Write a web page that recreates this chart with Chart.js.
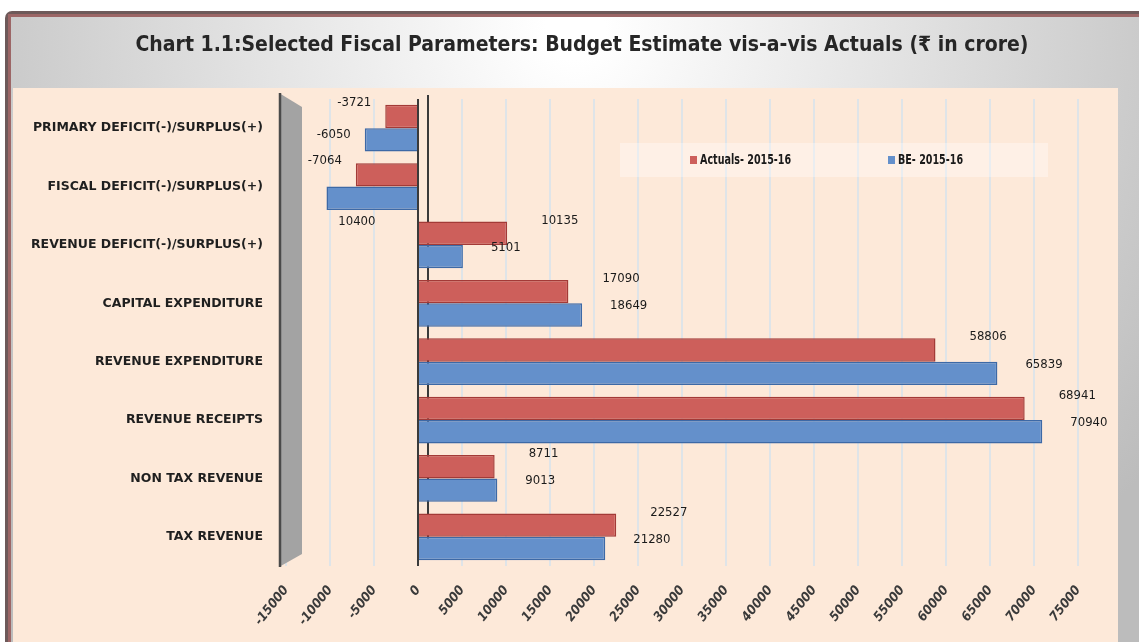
<!DOCTYPE html>
<html>
<head>
<meta charset="utf-8">
<script src="https://cdn.jsdelivr.net/npm/chart.js@4.4.0/dist/chart.umd.min.js"></script>
<style>
  html, body { margin: 0; padding: 0; background: #fff; }
  #wrap { position: relative; width: 1139px; height: 642px; }
</style>
</head>
<body>
<div id="wrap"><canvas id="grafico" width="1139" height="642"></canvas></div>
<script>
// datos (crore)
const categorias = [
  'PRIMARY DEFICIT(-)/SURPLUS(+)',
  'FISCAL DEFICIT(-)/SURPLUS(+)',
  'REVENUE DEFICIT(-)/SURPLUS(+)',
  'CAPITAL EXPENDITURE',
  'REVENUE EXPENDITURE',
  'REVENUE RECEIPTS',
  'NON TAX REVENUE',
  'TAX REVENUE'
];
const actuales = [-3721, -7064, 10135, 17090, 58806, 68941, 8711, 22527];
const presupuesto = [-6050, -10400, 5101, 18649, 65839, 70940, 9013, 21280];
const etiquetasActuales = ['-3721', '-7064', '10135', '17090', '58806', '68941', '8711', '22527'];
const etiquetasPresupuesto = ['-6050', '10400', '5101', '18649', '65839', '70940', '9013', '21280'];
const ejeMin = -15000;
const ejeMax = 75000;
const ejePaso = 5000;

const titulo = 'Chart 1.1:Selected Fiscal Parameters: Budget Estimate vis-a-vis Actuals (\u20B9 in crore)';
const fuente = "'DejaVu Sans Condensed', 'Liberation Sans', sans-serif";
const fuenteAncha = "'DejaVu Sans', 'Liberation Sans', sans-serif";

// fondo, marco y titulo
const fondoPlugin = {
  id: 'fondo',
  beforeDraw(chart) {
    const ctx = chart.ctx;
    const w = chart.width, h = chart.height;
    ctx.save();
    ctx.fillStyle = '#ffffff';
    ctx.fillRect(0, 0, w, h);
    ctx.fillStyle = '#6e5a5a';
    ctx.beginPath();
    ctx.roundRect(5, 11, w - 5, h - 11, [7, 0, 0, 0]);
    ctx.fill();
    ctx.fillStyle = '#9c6666';
    ctx.fillRect(8, 14, w - 8, h - 14);
    const g = ctx.createRadialGradient(575, 30, 30, 575, 30, 720);
    g.addColorStop(0, '#ffffff');
    g.addColorStop(1, '#bcbcbc');
    ctx.fillStyle = g;
    ctx.fillRect(11, 17, w - 11, h - 17);
    ctx.fillStyle = '#fde9d9';
    ctx.fillRect(13, 88, 1105, h - 88);

    ctx.fillStyle = '#262626';
    ctx.font = `bold 21px ${fuente}`;
    ctx.textAlign = 'center';
    ctx.textBaseline = 'middle';
    ctx.fillText(titulo, 582, 46);
    ctx.restore();
  },
  beforeDatasetsDraw(chart) {
    // pared gris 3D y linea cero trasera
    const ctx = chart.ctx;
    const a = chart.chartArea;
    const x0 = chart.scales.x.getPixelForValue(0);
    ctx.save();
    ctx.fillStyle = '#a3a3a3';
    ctx.beginPath();
    ctx.moveTo(a.left - 7, a.top - 6);
    ctx.lineTo(a.left + 16, a.top + 8);
    ctx.lineTo(a.left + 16, a.bottom - 12);
    ctx.lineTo(a.left - 7, a.bottom + 1);
    ctx.closePath();
    ctx.fill();
    ctx.strokeStyle = '#4a4a4a';
    ctx.lineWidth = 2.5;
    ctx.beginPath();
    ctx.moveTo(a.left - 6, a.top - 6);
    ctx.lineTo(a.left - 6, a.bottom + 1);
    ctx.stroke();
    ctx.strokeStyle = '#3a3a3a';
    ctx.lineWidth = 2;
    ctx.beginPath();
    ctx.moveTo(x0 + 10, a.top - 4);
    ctx.lineTo(x0 + 10, a.bottom - 12);
    ctx.stroke();
    ctx.restore();
  }
};

// etiquetas de valores
const etiquetasPlugin = {
  id: 'etiquetas',
  afterDatasetsDraw(chart) {
    const ctx = chart.ctx;
    ctx.save();
    ctx.font = `13px ${fuente}`;
    ctx.fillStyle = '#1a1a1a';
    ctx.textBaseline = 'middle';
    chart.data.datasets.forEach((ds, i) => {
      const meta = chart.getDatasetMeta(i);
      const textos = i === 0 ? etiquetasActuales : etiquetasPresupuesto;
      meta.data.forEach((bar, j) => {
        const v = ds.data[j];
        if (v >= 0) {
          ctx.textAlign = 'left';
          ctx.fillText(textos[j], bar.x + (i === 0 ? 34 : 28), bar.y - (i === 0 ? 13 : 9));
        } else if (i === 1 && v < -8000) {
          // etiqueta larga queda debajo de la barra
          ctx.textAlign = 'right';
          ctx.fillText(textos[j], bar.x + 49, bar.y + 23);
        } else {
          ctx.textAlign = 'right';
          ctx.fillText(textos[j], bar.x - 14, bar.y - (i === 0 ? 14 : 5));
        }
      });
    });
    ctx.restore();
  }
};

// leyenda dentro del area
const leyendaPlugin = {
  id: 'leyenda',
  afterDraw(chart) {
    const ctx = chart.ctx;
    ctx.save();
    ctx.fillStyle = 'rgba(255,255,255,0.35)';
    ctx.fillRect(620, 143, 428, 34);
    ctx.font = `bold 14px ${fuente}`;
    ctx.textBaseline = 'middle';
    ctx.textAlign = 'left';
    const posiciones = [690, 888];
    chart.data.datasets.forEach((ds, i) => {
      const x = posiciones[i];
      ctx.fillStyle = ds.backgroundColor;
      ctx.fillRect(x, 156, 7, 8);
      ctx.fillStyle = '#1a1a1a';
      ctx.save();
      ctx.translate(x + 10, 160);
      ctx.scale(0.76, 1);
      ctx.fillText(ds.label, 0, 0);
      ctx.restore();
    });
    ctx.restore();
  }
};

const ctx = document.getElementById('grafico').getContext('2d');
new Chart(ctx, {
  type: 'bar',
  data: {
    labels: categorias,
    datasets: [
      {
        label: 'Actuals- 2015-16',
        data: actuales,
        backgroundColor: '#cd5f5b',
        borderColor: '#a33a37',
        borderWidth: 1.5
      },
      {
        label: 'BE- 2015-16',
        data: presupuesto,
        backgroundColor: '#6490cb',
        borderColor: '#3d69a6',
        borderWidth: 1.5
      }
    ]
  },
  options: {
    indexAxis: 'y',
    responsive: false,
    animation: false,
    devicePixelRatio: 1,
    categoryPercentage: 0.8,
    barPercentage: 1,
    layout: { padding: { left: 0, right: 61, top: 99, bottom: 0 } },
    plugins: {
      legend: { display: false },
      title: { display: false },
      tooltip: { enabled: false }
    },
    scales: {
      x: {
        min: ejeMin,
        max: ejeMax,
        ticks: {
          stepSize: ejePaso,
          minRotation: 52,
          maxRotation: 52,
          padding: 17,
          color: '#3a3a3a',
          font: { family: fuente, size: 13, style: 'italic', weight: 'bold' },
          callback: v => String(v)
        },
        grid: {
          drawTicks: false,
          lineWidth: 2,
          color: ctx => ctx.tick && ctx.tick.value === 0 ? '#3a3a3a' : '#dfe4e8'
        },
        border: { display: false },
        afterFit: s => { s.height = 76; }
      },
      y: {
        ticks: {
          padding: 23,
          color: '#1f1f1f',
          font: { family: fuenteAncha, size: 12.5, weight: 'bold' }
        },
        grid: { display: false, drawTicks: false },
        border: { display: false },
        afterFit: s => { s.width = 286; }
      }
    }
  },
  plugins: [fondoPlugin, etiquetasPlugin, leyendaPlugin]
});
</script>
</body>
</html>
